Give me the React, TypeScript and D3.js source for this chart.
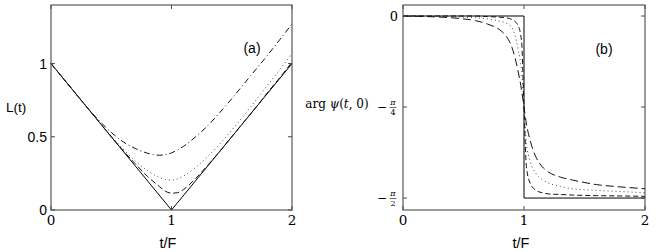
import React from "react";
import * as d3 from "d3";

// ---------- Data ----------
const tLeft = [0, 0.1, 0.2, 0.3, 0.4, 0.5, 0.6, 0.7, 0.8, 0.9, 0.95, 1.0, 1.05, 1.1, 1.2, 1.3, 1.4, 1.5, 1.6, 1.7, 1.8, 1.9, 2.0];
const LDashDot = [1.0, 0.9, 0.8, 0.7, 0.61, 0.53, 0.465, 0.42, 0.388, 0.374, 0.378, 0.39, 0.41, 0.435, 0.5, 0.575, 0.665, 0.76, 0.86, 0.96, 1.06, 1.165, 1.27];
const LDotted = [1.0, 0.9, 0.8, 0.7, 0.6, 0.505, 0.415, 0.335, 0.27, 0.222, 0.208, 0.205, 0.212, 0.232, 0.29, 0.365, 0.45, 0.545, 0.645, 0.75, 0.855, 0.96, 1.07];
const LDashed = [1.0, 0.9, 0.8, 0.7, 0.6, 0.5, 0.405, 0.315, 0.23, 0.16, 0.128, 0.115, 0.118, 0.14, 0.215, 0.305, 0.4, 0.5, 0.6, 0.7, 0.805, 0.905, 1.01];
const tSolidL = [0, 1, 2];
const LSolid = [1, 0, 1];

const tRight = [0, 0.2, 0.4, 0.5, 0.6, 0.7, 0.8, 0.85, 0.9, 0.95, 0.98, 1.0, 1.02, 1.05, 1.1, 1.15, 1.2, 1.3, 1.4, 1.6, 1.8, 2.0];
const argLong = [0, -0.005, -0.015, -0.025, -0.04, -0.07, -0.12, -0.17, -0.27, -0.47, -0.64, -0.785, -0.93, -1.07, -1.22, -1.3, -1.345, -1.39, -1.415, -1.455, -1.475, -1.49];
const argDotted = [0, 0, -0.005, -0.01, -0.015, -0.025, -0.045, -0.06, -0.1, -0.28, -0.48, -0.785, -1.1, -1.25, -1.36, -1.41, -1.44, -1.47, -1.49, -1.505, -1.515, -1.525];
const argShort = [0, 0, 0, 0, 0, -0.005, -0.01, -0.015, -0.03, -0.08, -0.22, -0.785, -1.3, -1.44, -1.505, -1.525, -1.535, -1.54, -1.545, -1.55, -1.553, -1.556];
const tStep = [0, 1, 1, 2];
const argStep = [0, 0, -Math.PI / 2, -Math.PI / 2];

const xTicks = [0, 1, 2];
const xTickLabels = ["0", "1", "2"];
const yTicksL = [0, 0.5, 1];
const yTickLabelsL = ["0", "0.5", "1"];
const yTicksR = [0, -Math.PI / 4, -Math.PI / 2];
const yTickDenoms = ["", "4", "2"];

const SANS = "Liberation Sans, Arial, Helvetica, sans-serif";
const SERIF = "DejaVu Serif, Liberation Serif, serif";
const FRAME = "#4a4a4a";

function Frame({ x0, x1, y0, y1 }: { x0: number; x1: number; y0: number; y1: number }) {
  return <rect x={x0} y={y0} width={x1 - x0} height={y1 - y0} fill="none" stroke={FRAME} strokeWidth={1.1} />;
}

export default function App() {
  // Left panel scales
  const xL = d3.scaleLinear().domain([0, 2]).range([51, 292]);
  const yL = d3.scaleLinear().domain([0, 1.4]).range([210, 5]);
  // Right panel scales
  const xR = d3.scaleLinear().domain([0, 2]).range([403, 645]);
  const yR = d3.scaleLinear().domain([-1.674, 0.095]).range([210, 5]);

  const lineL = (ts: number[], vs: number[], curve: any) =>
    d3.line<number>().x((_, i) => xL(ts[i])).y((v) => yL(v)).curve(curve)(vs) || "";
  const lineR = (ts: number[], vs: number[], curve: any) =>
    d3.line<number>().x((_, i) => xR(ts[i])).y((v) => yR(v)).curve(curve)(vs) || "";

  const tk = 4;

  return (
    <svg width={657} height={252} style={{ position: "absolute", left: 0, top: 0, background: "#fff" }}>
      <rect x={0} y={0} width={657} height={252} fill="#fff" />
      {/* ---------- Left panel ---------- */}
      <g>
        <path d={lineL(tSolidL, LSolid, d3.curveLinear)} fill="none" stroke="#000" strokeWidth={1} />
        <path d={lineL(tLeft, LDashed, d3.curveMonotoneX)} fill="none" stroke="#111" strokeWidth={1} strokeDasharray="6,3" />
        <path d={lineL(tLeft, LDotted, d3.curveMonotoneX)} fill="none" stroke="#444" strokeWidth={1} strokeDasharray="1,3" />
        <path d={lineL(tLeft, LDashDot, d3.curveMonotoneX)} fill="none" stroke="#111" strokeWidth={1} strokeDasharray="6,3,1,3" />
        <Frame x0={51} x1={292} y0={5} y1={210} />
        {xTicks.map((t, i) => (
          <g key={"xl" + i}>
            <line x1={xL(t)} x2={xL(t)} y1={210} y2={210 - tk} stroke={FRAME} />
            <line x1={xL(t)} x2={xL(t)} y1={5} y2={5 + tk} stroke={FRAME} />
            <text x={xL(t)} y={225} textAnchor="middle" fontFamily={SERIF} fontSize={13.5}>{xTickLabels[i]}</text>
          </g>
        ))}
        {yTicksL.map((v, i) => (
          <g key={"yl" + i}>
            <line x1={51} x2={51 + tk} y1={yL(v)} y2={yL(v)} stroke={FRAME} />
            <line x1={292} x2={292 - tk} y1={yL(v)} y2={yL(v)} stroke={FRAME} />
            <text x={47} y={yL(v) + 5} textAnchor="end" fontFamily={SANS} fontSize={14}>{yTickLabelsL[i]}</text>
          </g>
        ))}
        <text x={16} y={112} textAnchor="middle" fontFamily={SANS} fontSize={13.5}>L(t)</text>
        <text x={168} y={248} textAnchor="middle" fontFamily={SANS} fontSize={14.5}>t/F</text>
        <text x={252} y={53} textAnchor="middle" fontFamily={SANS} fontSize={14}>(a)</text>
      </g>

      {/* ---------- Right panel ---------- */}
      <g>
        <path d={lineR(tStep, argStep, d3.curveLinear)} fill="none" stroke="#000" strokeWidth={1} />
        <path d={lineR(tRight, argShort, d3.curveMonotoneX)} fill="none" stroke="#111" strokeWidth={1} strokeDasharray="5,3" />
        <path d={lineR(tRight, argDotted, d3.curveMonotoneX)} fill="none" stroke="#444" strokeWidth={1} strokeDasharray="1,3" />
        <path d={lineR(tRight, argLong, d3.curveMonotoneX)} fill="none" stroke="#111" strokeWidth={1} strokeDasharray="8,4" />
        <Frame x0={403} x1={645} y0={5} y1={210} />
        {xTicks.map((t, i) => (
          <g key={"xr" + i}>
            <line x1={xR(t)} x2={xR(t)} y1={210} y2={210 - tk} stroke={FRAME} />
            <line x1={xR(t)} x2={xR(t)} y1={5} y2={5 + tk} stroke={FRAME} />
            <text x={xR(t)} y={225} textAnchor="middle" fontFamily={SERIF} fontSize={13.5}>{xTickLabels[i]}</text>
          </g>
        ))}
        {yTicksR.map((v, i) => (
          <g key={"yr" + i}>
            <line x1={403} x2={403 + tk} y1={yR(v)} y2={yR(v)} stroke={FRAME} />
            <line x1={645} x2={645 - tk} y1={yR(v)} y2={yR(v)} stroke={FRAME} />
            {i === 0 ? (
              <text x={398} y={yR(v) + 4.5} textAnchor="end" fontFamily={SERIF} fontSize={13}>0</text>
            ) : (
              <g>
                <text x={382} y={yR(v) + 4} textAnchor="middle" fontFamily={SERIF} fontSize={12}>−</text>
                <text x={393} y={yR(v) - 2} textAnchor="middle" fontFamily={SERIF} fontSize={8} fontStyle="italic">π</text>
                <line x1={389.5} x2={396.5} y1={yR(v) + 0.5} y2={yR(v) + 0.5} stroke="#000" strokeWidth={0.6} />
                <text x={393} y={yR(v) + 8} textAnchor="middle" fontFamily={SERIF} fontSize={8}>{yTickDenoms[i]}</text>
              </g>
            )}
          </g>
        ))}
        <text x={337} y={108} textAnchor="middle" fontFamily={SERIF} fontSize={12}>
          arg <tspan fontStyle="italic">ψ</tspan>(<tspan fontStyle="italic">t</tspan>, 0)
        </text>
        <text x={521} y={248} textAnchor="middle" fontFamily={SANS} fontSize={14.5}>t/F</text>
        <text x={604} y={54} textAnchor="middle" fontFamily={SANS} fontSize={14}>(b)</text>
      </g>
    </svg>
  );
}
